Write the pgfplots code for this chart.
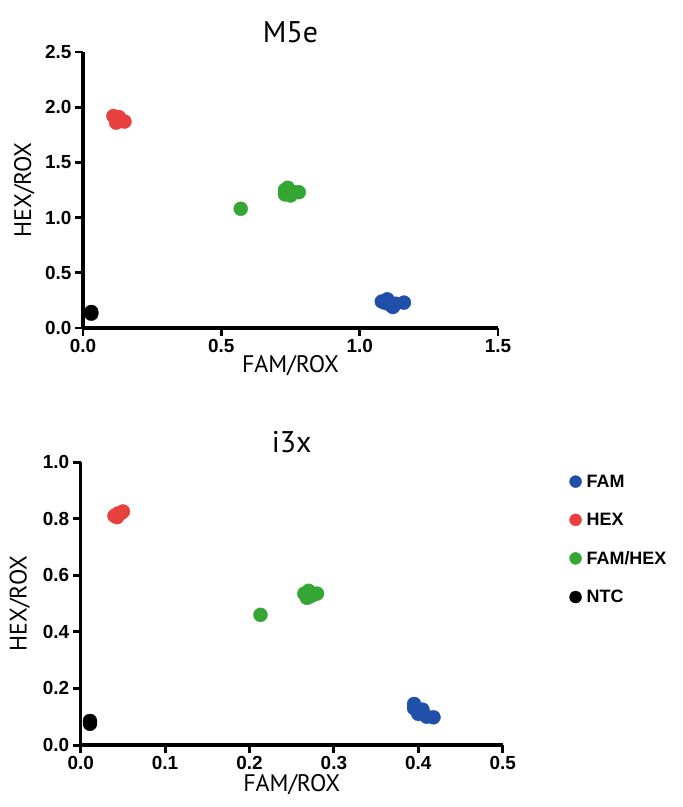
\documentclass[border=0pt]{standalone}
\usepackage{pgfplots}
\pgfplotsset{compat=1.18}
\usepackage{fontspec}
\setmainfont{Liberation Sans}
\newfontfamily\labfont{PT Sans}
\definecolor{cfam}{HTML}{1F4FA8}
\definecolor{chex}{HTML}{E8403F}
\definecolor{cboth}{HTML}{35A634}
\definecolor{cntc}{HTML}{000000}
\pgfplotsset{
  gp/.style={
    scale only axis,
    axis lines=left,
    axis line style={-},
    every outer x axis line/.append style={line width=3.6pt, -},
    every outer y axis line/.append style={line width=3.6pt, -},
    tick style={line width=3pt, black},
    tick align=outside,
    major tick length=8pt,
    xtick pos=bottom, ytick pos=left,
    tick label style={font=\fontsize{19}{19}\selectfont\bfseries},
    /pgf/number format/assume math mode=true,
    /pgf/number format/fixed,
    /pgf/number format/fixed zerofill,
    /pgf/number format/precision=1,
    xlabel={FAM/ROX}, ylabel={HEX/ROX},
    label style={font=\labfont\fontsize{24}{24}\selectfont},
    title style={font=\labfont\fontsize{30}{30}\selectfont},
    clip=false,
  },
  pt/.style={only marks, mark=*, mark size=7pt, mark options={draw=#1, fill=#1}, color=#1},
}
\begin{document}
\begin{tikzpicture}
\useasboundingbox (0,0) rectangle (683bp,-807bp);
\begin{axis}[gp,
  at={(83bp,-328bp)}, anchor=origin,
  width=415bp, height=276bp,
  xmin=0, xmax=1.5, ymin=0, ymax=2.5,
  xtick={0,0.5,1,1.5}, ytick={0,0.5,1,1.5,2,2.5},
  title={M5e},
  ylabel style={yshift=4pt},
  xlabel style={yshift=4pt},
]
\addplot[pt=cfam] coordinates {(1.08,0.24) (1.10,0.26) (1.11,0.21) (1.12,0.19) (1.13,0.22) (1.16,0.23) (1.09,0.23)};
\addplot[pt=chex] coordinates {(0.11,1.92) (0.12,1.89) (0.12,1.86) (0.13,1.91) (0.14,1.88) (0.15,1.87)};
\addplot[pt=cboth] coordinates {(0.57,1.08) (0.73,1.25) (0.74,1.27) (0.73,1.21) (0.75,1.20) (0.76,1.23) (0.78,1.23) (0.74,1.22)};
\addplot[pt=cntc] coordinates {(0.03,0.145) (0.03,0.13)};
\end{axis}
\begin{axis}[gp,
  at={(80.7bp,-745bp)}, anchor=origin,
  width=422bp, height=283bp,
  xmin=0, xmax=0.5, ymin=0, ymax=1.0,
  xtick={0,0.1,0.2,0.3,0.4,0.5}, ytick={0,0.2,0.4,0.6,0.8,1.0},
  title={i3x},
  ylabel style={yshift=6pt},
  xlabel style={yshift=2pt},
  legend style={draw=none, fill=none, at={(rel axis cs:1.145,0.97)}, anchor=north west,
    font=\fontsize{18}{18}\selectfont\bfseries, row sep=20.5pt},
  legend cell align=left,
  legend image code/.code={\path[draw=none, fill=none] (0cm,0cm) -- (0.62cm,0cm); \draw[#1, mark size=6pt] plot coordinates {(0.3cm,0cm)};},
]
\addplot[pt=cfam] coordinates {(0.395,0.145) (0.395,0.13) (0.40,0.12) (0.405,0.125) (0.41,0.10) (0.418,0.098) (0.40,0.11)};
\addlegendentry{FAM}
\addplot[pt=chex] coordinates {(0.040,0.81) (0.043,0.805) (0.045,0.815) (0.048,0.82) (0.050,0.825) (0.044,0.818)};
\addlegendentry{HEX}
\addplot[pt=cboth] coordinates {(0.213,0.46) (0.265,0.535) (0.27,0.545) (0.268,0.52) (0.275,0.53) (0.28,0.535) (0.272,0.525) (0.27,0.54)};
\addlegendentry{FAM/HEX}
\addplot[pt=cntc] coordinates {(0.011,0.085) (0.011,0.075)};
\addlegendentry{NTC}
\end{axis}
\end{tikzpicture}
\end{document}
